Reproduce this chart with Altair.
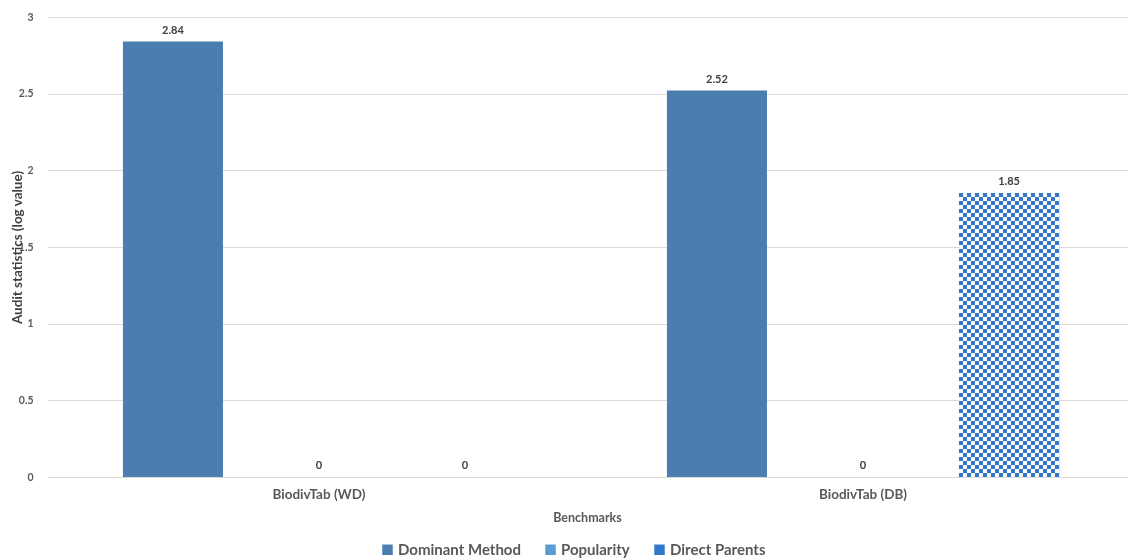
import altair as alt
import pandas as pd

benchmarks = ["BiodivTab (WD)", "BiodivTab (DB)"]
series = ["Dominant Method", "Popularity", "Direct Parents"]
dominant_method = [2.84, 2.52]
popularity = [0, 0]
direct_parents = [0, 1.85]
y_ticks = [0, 0.5, 1, 1.5, 2, 2.5, 3]

colors = ["#4a7eb1", "#5b9bd5", "#3378c8"]

rows = []
for i, b in enumerate(benchmarks):
    for s, vals in zip(series, [dominant_method, popularity, direct_parents]):
        rows.append({"benchmark": b, "series": s, "value": vals[i]})
df = pd.DataFrame(rows)

FONT = "Lato"
TXT = "#595959"


def stripes(n, horizontal):
    stops = []
    for k in range(n):
        c = "black" if k % 2 == 0 else "white"
        stops.append(alt.GradientStop(offset=k / n, color=c))
        stops.append(alt.GradientStop(offset=(k + 1) / n, color=c))
    if horizontal:
        return alt.LinearGradient(gradient="linear", stops=stops, x1=0, x2=0, y1=0, y2=1)
    return alt.LinearGradient(gradient="linear", stops=stops, x1=0, x2=1, y1=0, y2=0)


base = alt.Chart(df).encode(
    x=alt.X(
        "benchmark:N",
        sort=benchmarks,
        scale=alt.Scale(domain=benchmarks, range=[0, 1088], paddingInner=0, paddingOuter=0),
        axis=alt.Axis(
            title="Benchmarks",
            labelAngle=0,
            labelFont=FONT,
            labelFontSize=13.5,
            labelFontWeight="bold",
            labelColor=TXT,
            labelPadding=10,
            ticks=False,
            domain=False,
            titleFont=FONT,
            titleFontSize=12.5,
            titleFontWeight="bold",
            titleColor=TXT,
            titlePadding=11,
            titleX=540,
        ),
    ),
    xOffset=alt.XOffset(
        "series:N",
        sort=series,
        scale=alt.Scale(domain=series, paddingInner=0.315, paddingOuter=0.52),
    ),
    y=alt.Y(
        "value:Q",
        scale=alt.Scale(domain=[0, 3], nice=False),
        axis=alt.Axis(
            values=y_ticks,
            format="~g",
            title="Audit statistics (log value)",
            labelFont=FONT,
            labelFontSize=10.5,
            labelFontWeight="bold",
            labelColor=TXT,
            labelPadding=14,
            ticks=False,
            domain=False,
            gridColor="#d9d9d9",
            titleFont=FONT,
            titleFontSize=13.5,
            titleFontWeight="bold",
            titleColor="#404040",
            titleX=-30,
            titleY=230,
            titleAngle=270,
            titleAlign="center",
            titleBaseline="middle",
        ),
    ),
)

bars = base.mark_bar().encode(
    color=alt.Color(
        "series:N",
        sort=series,
        scale=alt.Scale(domain=series, range=colors),
        legend=alt.Legend(
            title=None,
            orient="none",
            direction="horizontal",
            legendX=333,
            legendY=525,
            symbolType="square",
            symbolSize=110,
            symbolStrokeWidth=0,
            labelFont=FONT,
            labelFontSize=15,
            labelFontWeight="bold",
            labelColor=TXT,
            labelOffset=3,
            columnPadding=22,
        ),
    )
)

dp = base.transform_filter("datum.series == 'Direct Parents' && datum.value > 0")
check_a = dp.mark_bar(fill=stripes(25, False))
check_b = dp.mark_bar(fill=stripes(71, True), blend="difference")
check_c = dp.mark_bar(fill=colors[2], blend="screen")

labels = base.mark_text(
    dy=-6, baseline="bottom", font=FONT, fontSize=11, fontWeight="bold", color="#404040"
).encode(text=alt.Text("value:Q", format="~g"))

chart = (
    alt.layer(bars, check_a, check_b, check_c, labels)
    .properties(
        width=1081,
        height=460,
        autosize=alt.AutoSizeParams(type="none"),
        padding={"left": 47, "top": 17, "right": 0, "bottom": 81},
        background="white",
    )
    .configure_view(stroke=None)
)

chart.save("out.html", embed_options={"renderer": "svg", "actions": False})
